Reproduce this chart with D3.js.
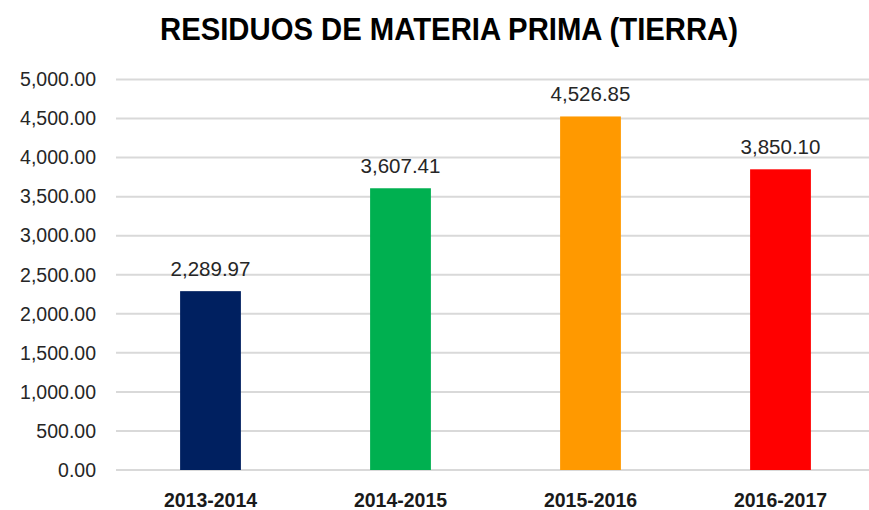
<!DOCTYPE html>
<html>
<head>
<meta charset="utf-8">
<script src="https://cdn.jsdelivr.net/npm/d3@7"></script>
<style>
  body { margin: 0; background: #fff; }
</style>
</head>
<body>
<div id="chartContainer"></div>
<script>
var periods = ["2013-2014", "2014-2015", "2015-2016", "2016-2017"];
var residuos = [2289.97, 3607.41, 4526.85, 3850.10];
var barColors = ["#002060", "#00b050", "#ff9900", "#ff0000"];
var yTicks = [0, 500, 1000, 1500, 2000, 2500, 3000, 3500, 4000, 4500, 5000];
var title = "RESIDUOS DE MATERIA PRIMA (TIERRA)";

var width = 869, height = 510;
var svg = d3.select("#chartContainer").append("svg")
  .attr("width", width)
  .attr("height", height);

var fmt = d3.format(",.2f");

var x = d3.scaleBand()
  .domain(periods)
  .range([115.5, 875.5])
  .paddingInner(0.68)
  .paddingOuter(0.34);

var y = d3.scaleLinear()
  .domain([0, 5000])
  .range([470, 79.5]);

// title
svg.append("text")
  .attr("x", 449)
  .attr("y", 40)
  .attr("text-anchor", "middle")
  .attr("textLength", 578)
  .attr("lengthAdjust", "spacingAndGlyphs")
  .style("font-family", "'Liberation Sans', Arial, sans-serif")
  .style("font-weight", "bold")
  .style("font-size", "31px")
  .style("fill", "#000")
  .text(title);

// gridlines
svg.append("g")
  .selectAll("line")
  .data(yTicks)
  .enter()
  .append("line")
  .attr("x1", 116)
  .attr("x2", width)
  .attr("y1", function (d) { return y(d); })
  .attr("y2", function (d) { return y(d); })
  .style("stroke", "#d9d9d9")
  .style("stroke-width", 2);

// y axis labels
var yAxis = d3.axisLeft(y).tickValues(yTicks).tickFormat(fmt).tickSize(0).tickPadding(0);
var gy = svg.append("g")
  .attr("transform", "translate(96,0)")
  .call(yAxis);
gy.select(".domain").remove();
gy.selectAll("text")
  .style("font-family", "'Liberation Sans', Arial, sans-serif")
  .style("font-size", "19.5px")
  .style("fill", "#262626");

// bars
svg.append("g")
  .selectAll("rect")
  .data(residuos)
  .enter()
  .append("rect")
  .attr("x", function (d, i) { return x(periods[i]); })
  .attr("width", x.bandwidth())
  .attr("y", function (d) { return y(d); })
  .attr("height", function (d) { return y(0) - y(d); })
  .style("fill", function (d, i) { return barColors[i]; });

// value labels
svg.append("g")
  .selectAll("text")
  .data(residuos)
  .enter()
  .append("text")
  .attr("x", function (d, i) { return x(periods[i]) + x.bandwidth() / 2; })
  .attr("y", function (d) { return y(d) - 15; })
  .attr("text-anchor", "middle")
  .style("font-family", "'Liberation Sans', Arial, sans-serif")
  .style("font-size", "20.5px")
  .style("fill", "#262626")
  .text(function (d) { return fmt(d); });

// x axis labels
var xAxis = d3.axisBottom(x).tickSize(0).tickPadding(0);
var gx = svg.append("g")
  .attr("transform", "translate(0,493)")
  .call(xAxis);
gx.select(".domain").remove();
gx.selectAll("text")
  .style("font-family", "'Liberation Sans', Arial, sans-serif")
  .style("font-weight", "bold")
  .style("font-size", "19.5px")
  .style("fill", "#1a1a1a");
</script>
</body>
</html>
